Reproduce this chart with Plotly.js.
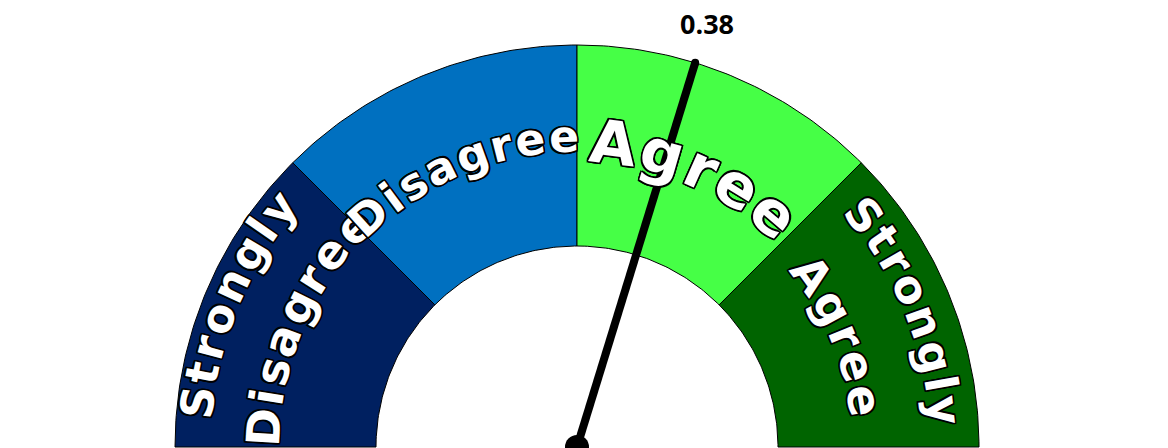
<!DOCTYPE html>
<html><head><meta charset="utf-8">
<script src="https://cdn.plot.ly/plotly-3.0.1.min.js"></script>
<style>html,body{margin:0;padding:0;background:#fff;overflow:hidden}#chart{width:1168px;height:448px}</style>
</head><body><div id="chart"></div>
<script>
// ---- data ----
const categories = ['Strongly Disagree', 'Disagree', 'Agree', 'Strongly Agree'];
const segLow = [-2, -1, 0, 1];
const segHigh = [-1, 0, 1, 2];
const segColors = ['#002060', '#0070C0', '#46FF46', '#006400'];
const gaugeMin = -2;
const gaugeMax = 2;
const needleValue = 0.38;
const labelLines = [['Strongly', 'Disagree'], ['Disagree'], ['Agree'], ['Strongly', 'Agree']];

// ---- geometry / style (pixels) ----
const CX = 577, CY = 447, W = 1168, H = 448;
const R_OUT = 402, R_IN = 201;
const TRACK = 0.09; // extra letter spacing, in em
const lineStyle = [ // per category, per line: radius of letter centres, font size, angular nudge
  [{r: 382, fs: 45, d: 0}, {r: 314, fs: 46, d: 1.2}],
  [{r: 311, fs: 44, d: 0}],
  [{r: 306, fs: 60, d: 0.8}],
  [{r: 369, fs: 45, d: 0}, {r: 291, fs: 46, d: -0.5}]
];

function valToDeg(v) { return (v - (gaugeMin + gaugeMax) / 2) / (gaugeMax - gaugeMin) * 180; }
function pol(r, deg) { const a = deg * Math.PI / 180; return [r * Math.sin(a), r * Math.cos(a)]; }

const traces = [];
categories.forEach((cat, i) => {
  const a0 = valToDeg(segLow[i]), a1 = valToDeg(segHigh[i]);
  const xs = [], ys = [];
  const n = 60;
  for (let k = 0; k <= n; k++) { const p = pol(R_OUT, a0 + (a1 - a0) * k / n); xs.push(p[0]); ys.push(p[1]); }
  for (let k = n; k >= 0; k--) { const p = pol(R_IN, a0 + (a1 - a0) * k / n); xs.push(p[0]); ys.push(p[1]); }
  xs.push(xs[0]); ys.push(ys[0]);
  traces.push({type: 'scatter', mode: 'lines', x: xs, y: ys, fill: 'toself', fillcolor: segColors[i],
    line: {color: '#000', width: 1}, name: cat, hoverinfo: 'skip'});
});

const nDeg = valToDeg(needleValue);
const tip = pol(R_OUT, nDeg);
traces.push({type: 'scatter', mode: 'lines', x: [0, tip[0]], y: [0, tip[1]], line: {color: '#000', width: 8}, hoverinfo: 'skip'});
traces.push({type: 'scatter', mode: 'markers', x: [tip[0]], y: [tip[1]], marker: {color: '#000', size: 8}, hoverinfo: 'skip', cliponaxis: false});
traces.push({type: 'scatter', mode: 'markers', x: [0], y: [0], marker: {color: '#000', size: 24}, hoverinfo: 'skip', cliponaxis: false});

// ---- curved labels ----
const canvas = document.createElement('canvas');
const ctx = canvas.getContext('2d');
const outline = '-1.5px -1.5px 0 #000, 1.5px -1.5px 0 #000, -1.5px 1.5px 0 #000, 1.5px 1.5px 0 #000, 0 1.6px 0 #000, 0 -1.6px 0 #000, 1.6px 0 0 #000, -1.6px 0 0 #000';
const annotations = [];
function curvedText(text, centerDeg, r, fs) {
  ctx.font = 'bold ' + fs + 'px "DejaVu Sans"';
  const chars = Array.from(text);
  const widths = chars.map(c => ctx.measureText(c).width + TRACK * fs);
  const total = widths.reduce((a, b) => a + b, 0);
  let s = -total / 2;
  chars.forEach((c, i) => {
    const mid = s + widths[i] / 2; s += widths[i];
    const a = centerDeg + mid / r * 180 / Math.PI;
    const p = pol(r, a);
    annotations.push({x: p[0], y: p[1], xref: 'x', yref: 'y', text: c, showarrow: false,
      xanchor: 'center', yanchor: 'middle', textangle: a, borderpad: 0,
      font: {family: 'DejaVu Sans', size: fs, color: '#fff', weight: 700, shadow: outline}});
  });
}
categories.forEach((cat, i) => {
  const centre = valToDeg((segLow[i] + segHigh[i]) / 2);
  labelLines[i].forEach((t, j) => {
    const st = lineStyle[i][j];
    curvedText(t, centre + st.d, st.r, st.fs);
  });
});
const lab = pol(443, nDeg);
annotations.push({x: lab[0], y: lab[1], xref: 'x', yref: 'y', text: needleValue.toFixed(2), showarrow: false,
  xanchor: 'center', yanchor: 'middle', font: {family: 'Open Sans', size: 27, color: '#000', weight: 700}});

const layout = {
  width: W, height: H, margin: {l: 0, r: 0, t: 0, b: 0},
  paper_bgcolor: '#fff', plot_bgcolor: '#fff', showlegend: false, hovermode: false,
  xaxis: {range: [-CX, W - CX], visible: false, fixedrange: true},
  yaxis: {range: [CY - H, CY], visible: false, fixedrange: true},
  annotations: annotations
};
Plotly.newPlot('chart', traces, layout, {staticPlot: true, displayModeBar: false});
</script>
</body></html>
